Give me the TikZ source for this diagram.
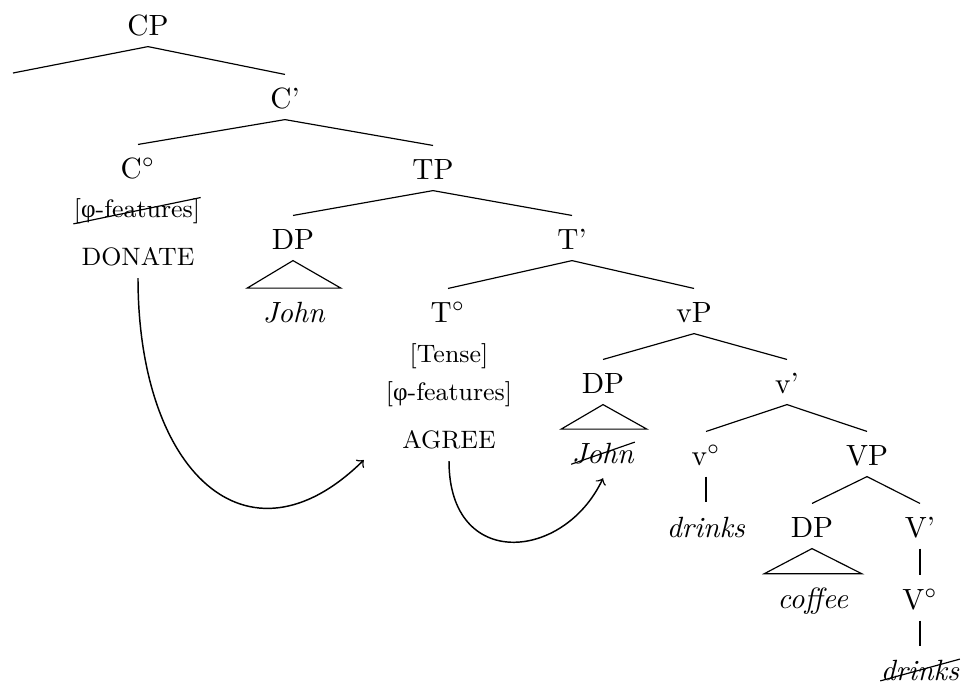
\documentclass[tikz,border=0pt]{standalone}
\usepackage{fontspec}
\newfontfamily\phifont{Liberation Serif}
\newcommand\featsize{\fontsize{8.6pt}{10pt}\selectfont}
\newcommand\phifeat{[{\phifont φ}-features]}
\begin{document}
\begin{tikzpicture}[x=0.3415pt,y=-0.3415pt,
  cat/.style={anchor=base,inner xsep=1pt,inner ysep=3.76pt,text height=7.5pt,text depth=0pt},
  word/.style={anchor=base,inner sep=0pt},
  feat/.style={word,font=\featsize},
  opword/.style={anchor=base,inner xsep=0pt,inner ysep=4.1pt,font=\featsize},
  branch/.style={line width=0.4pt},
  movearrow/.style={->,line width=0.5pt}]
\useasboundingbox (0,0) rectangle (963,682);

% category labels
\node[cat] (cp)   at (148,35)  {CP};
\node[cat] (cbar) at (285,108) {C'};
\node[cat] (c0)   at (138,178) {C$^\circ$};
\node[cat] (tp)   at (433,179) {TP};
\node[cat] (dp1)  at (293,249) {DP};
\node[cat] (tbar) at (572,249) {T'};
\node[cat] (t0)   at (448,322) {T$^\circ$};
\node[cat] (vp)   at (694,322) {vP};
\node[cat] (dp2)  at (603,393) {DP};
\node[cat] (vbar) at (787,393) {v'};
\node[cat] (v0)   at (706,465) {v$^\circ$};
\node[cat] (bvp)  at (867,465) {VP};
\node[cat] (dp3)  at (812,537) {DP};
\node[cat] (bvbar) at (920,537) {V'};
\node[cat] (bv0)  at (920,609) {V$^\circ$};
\coordinate (spec) at (13,73);

% features, operations and words
\node[feat]   (c0f)     at (137,217) {\phifeat};
\node[opword] (donate)  at (138,265) {DONATE};
\node[word]   (john1)   at (294,322) {\textit{John}};
\node[feat]   (t0t)     at (449,362) {[Tense]};
\node[feat]   (t0f)     at (449,400) {\phifeat};
\node[opword] (agree)   at (449,448) {AGREE};
\node[word]   (john2)   at (603,463) {\textit{John}};
\node[word]   (drinks1) at (706,537) {\textit{drinks}};
\node[word]   (coffee)  at (813,608) {\textit{coffee}};
\node[word]   (drinks2) at (920,680) {\textit{drinks}};

% branches
\draw[branch] (spec) -- (cp.south) -- (cbar.north);
\draw[branch] (c0.north) -- (cbar.south) -- (tp.north);
\draw[branch] (dp1.north) -- (tp.south) -- (tbar.north);
\draw[branch] (t0.north) -- (tbar.south) -- (vp.north);
\draw[branch] (dp2.north) -- (vp.south) -- (vbar.north);
\draw[branch] (v0.north) -- (vbar.south) -- (bvp.north);
\draw[branch] (dp3.north) -- (bvp.south) -- (bvbar.north);
\draw[branch] (bvbar.south) -- (bv0.north);
\draw[branch] (v0.south) -- ([shift={(0,-14)}]drinks1.north);
\draw[branch] (bv0.south) -- ([shift={(0,-13)}]drinks2.north);

% roofs
\draw[branch] (dp1.south) -- ([shift={(-15,-13)}]john1.north west)
  -- ([shift={(15,-13)}]john1.north east) -- cycle;
\draw[branch] (dp2.south) -- ([shift={(-10,-13)}]john2.north west)
  -- ([shift={(12,-13)}]john2.north east) -- cycle;
\draw[branch] (dp3.south) -- ([shift={(-13,-13)}]coffee.north west)
  -- ([shift={(13,-13)}]coffee.north east) -- cycle;

% checked / deleted material
\draw[branch] (c0f.south west) -- (c0f.north east);
\draw[branch] (john2.south west) -- (john2.north east);
\draw[branch] (drinks2.south west) -- (drinks2.north east);

% movement arrows
\draw[movearrow] (donate.south) .. controls +(0,193) and +(-117,115)
  .. ([shift={(-38,12)}]agree.base west);
\draw[movearrow] (agree.south) .. controls +(0,110) and +(-39,83)
  .. ([shift={(0,14)}]john2.south);
\end{tikzpicture}
\end{document}
